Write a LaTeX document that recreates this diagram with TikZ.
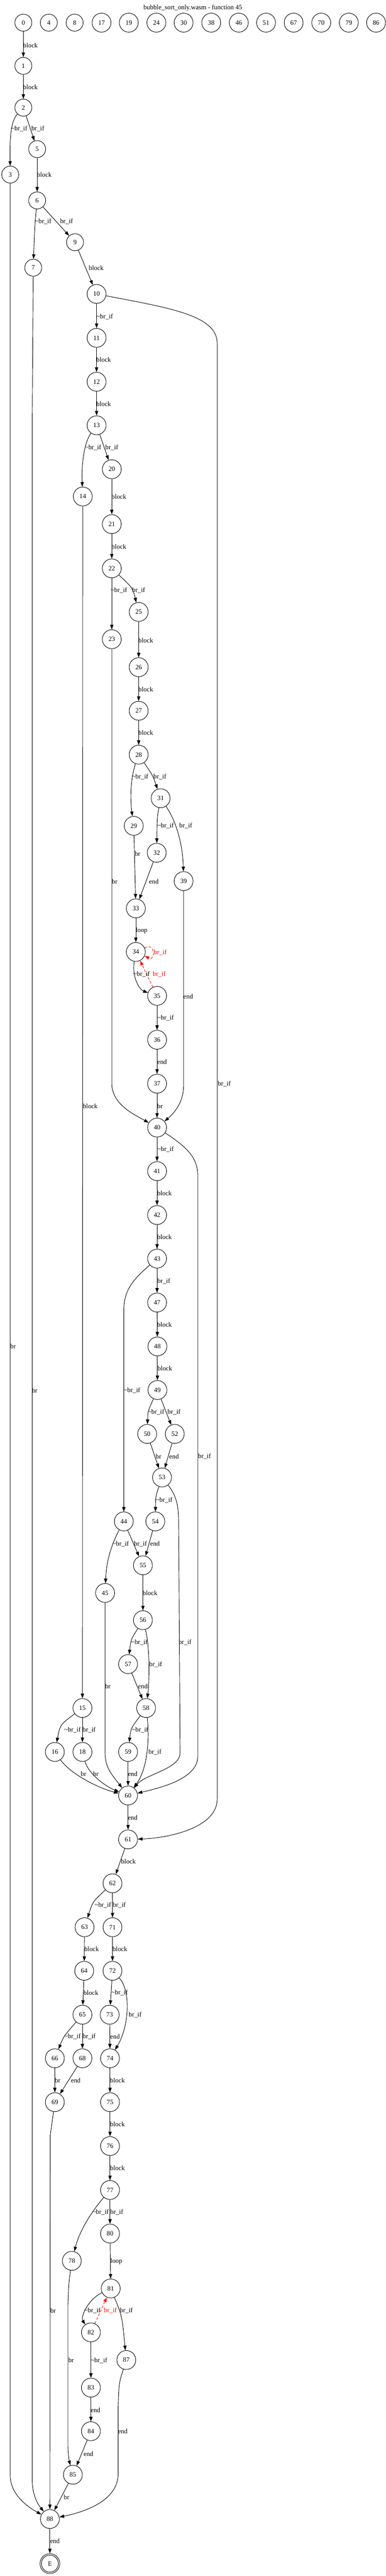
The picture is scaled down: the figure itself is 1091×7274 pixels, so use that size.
\documentclass[tikz,border=0pt]{standalone}
\usepackage{fontspec}
\newfontfamily\libser{Liberation Serif}
\usetikzlibrary{arrows.meta}
\newcommand\gvf{\libser\fontsize{18.67pt}{22pt}\selectfont}
\newcommand\bif{br\_if}
\newcommand\nbif{\textasciitilde br\_if}
\newcommand\elab[4]{\node[lbl] (#1) at (#2,#3) {#4};}
\tikzset{
  n/.style={circle, draw, line width=1.33pt, minimum size=48pt, inner sep=0pt, font=\gvf},
  nn/.style={n, minimum size=53.5pt},
  lbl/.style={inner sep=0pt, font=\gvf},
  ed/.style={draw, line width=1.33pt, -{Triangle[length=13.3pt,width=9.3pt]}},
  back/.style={ed, red, dashed, dash pattern=on 7pt off 5pt},
  rl/.style={lbl, text=red}
}
\begin{document}
\begin{tikzpicture}[x=1pt,y=-1pt]
\fill[white] (0,0) rectangle (1091,7274);
\useasboundingbox (0,0) rectangle (1091,7274);
\node[lbl] (title) at (545,22) {bubble\_sort\_only.wasm - function 45};
% top row
\node[n] (n0) at (66,64) {0};
\node[n] (n4) at (138,64) {4};
\node[n] (n8) at (211,64) {8};
\node[nn] (n17) at (287,64) {17};
\node[nn] (n19) at (364,64) {19};
\node[nn] (n24) at (442,64) {24};
\node[nn] (n30) at (519,64) {30};
\node[nn] (n38) at (597,64) {38};
\node[nn] (n46) at (675,64) {46};
\node[nn] (n51) at (752,64) {51};
\node[nn] (n67) at (830,64) {67};
\node[nn] (n70) at (908,64) {70};
\node[nn] (n79) at (986,64) {79};
\node[nn] (n86) at (1063,64) {86};
% graph nodes
\node[n] (n1) at (66,186) {1};
\node[n] (n2) at (66,304) {2};
\node[n] (n5) at (105,421) {5};
\node[n] (n3) at (29,493) {3};
\node[n] (n6) at (105,566) {6};
\node[n] (n9) at (212,684) {9};
\node[n] (n7) at (94,756) {7};
\node[nn] (n10) at (273,830) {10};
\node[nn] (n11) at (273,954) {11};
\node[nn] (n12) at (273,1078) {12};
\node[nn] (n13) at (273,1201) {13};
\node[nn] (n20) at (316,1325) {20};
\node[nn] (n14) at (234,1402) {14};
\node[nn] (n21) at (316,1480) {21};
\node[nn] (n22) at (316,1605) {22};
\node[nn] (n25) at (392,1728) {25};
\node[nn] (n23) at (316,1805) {23};
\node[nn] (n26) at (392,1884) {26};
\node[nn] (n27) at (392,2007) {27};
\node[nn] (n28) at (392,2131) {28};
\node[nn] (n31) at (454,2254) {31};
\node[nn] (n29) at (378,2332) {29};
\node[nn] (n32) at (443,2408) {32};
\node[nn] (n39) at (519,2488) {39};
\node[nn] (n33) at (384,2565) {33};
\node[nn] (n34) at (384,2688) {34};
\node[nn] (n35) at (444,2812) {35};
\node[nn] (n36) at (444,2936) {36};
\node[nn] (n37) at (444,3060) {37};
\node[nn] (n40) at (444,3184) {40};
\node[nn] (n41) at (444,3307) {41};
\node[nn] (n42) at (444,3431) {42};
\node[nn] (n43) at (444,3554) {43};
\node[nn] (n47) at (444,3678) {47};
\node[nn] (n48) at (445,3802) {48};
\node[nn] (n49) at (445,3925) {49};
\node[nn] (n50) at (416,4049) {50};
\node[nn] (n52) at (494,4049) {52};
\node[nn] (n53) at (458,4172) {53};
\node[nn] (n44) at (350,4296) {44};
\node[nn] (n54) at (439,4296) {54};
\node[nn] (n55) at (404,4420) {55};
\node[nn] (n45) at (297,4498) {45};
\node[nn] (n56) at (404,4575) {56};
\node[nn] (n57) at (362,4699) {57};
\node[nn] (n15) at (233,4823) {15};
\node[nn] (n58) at (413,4823) {58};
\node[nn] (n16) at (155,4947) {16};
\node[nn] (n18) at (233,4947) {18};
\node[nn] (n59) at (362,4947) {59};
\node[nn] (n60) at (362,5070) {60};
\node[nn] (n61) at (362,5194) {61};
\node[nn] (n62) at (318,5318) {62};
\node[nn] (n63) at (239,5442) {63};
\node[nn] (n71) at (318,5442) {71};
\node[nn] (n64) at (238,5565) {64};
\node[nn] (n72) at (318,5565) {72};
\node[nn] (n65) at (233,5689) {65};
\node[nn] (n73) at (310,5689) {73};
\node[nn] (n66) at (155,5812) {66};
\node[nn] (n68) at (233,5812) {68};
\node[nn] (n74) at (311,5812) {74};
\node[nn] (n69) at (155,5936) {69};
\node[nn] (n75) at (311,5936) {75};
\node[nn] (n76) at (311,6060) {76};
\node[nn] (n77) at (311,6184) {77};
\node[nn] (n80) at (311,6307) {80};
\node[nn] (n78) at (203,6384) {78};
\node[nn] (n81) at (313,6462) {81};
\node[nn] (n82) at (257,6586) {82};
\node[nn] (n87) at (357,6664) {87};
\node[nn] (n83) at (257,6742) {83};
\node[nn] (n84) at (257,6865) {84};
\node[nn] (n85) at (206,6988) {85};
\node[nn] (n88) at (141,7113) {88};
\node[n, minimum size=56pt] (nE) at (141,7239) {E};
\draw[line width=1.33pt] (nE.center) circle[radius=24pt];
% edges
\draw[ed] (n0) -- (n1);
\draw[ed] (n1) -- (n2);
\draw[ed] (n2) .. controls (28,345) and (28,400) .. (n3);
\draw[ed] (n2) -- (n5);
\draw[ed] (n5) -- (n6);
\draw[ed] (n6) .. controls (98,640) .. (n7);
\draw[ed] (n6) -- (n9);
\draw[ed] (n9) -- (n10);
\draw[ed] (n10) -- (n11);
\draw[ed] (n10) .. controls (480,870) and (614,890) .. (614,970) -- (614,5080) .. controls (614,5160) and (480,5190) .. (n61);
\draw[ed] (n11) -- (n12);
\draw[ed] (n12) -- (n13);
\draw[ed] (n13) .. controls (238,1250) and (230,1310) .. (n14);
\draw[ed] (n13) -- (n20);
\draw[ed] (n20) -- (n21);
\draw[ed] (n21) -- (n22);
\draw[ed] (n22) -- (n23);
\draw[ed] (n22) .. controls (375,1660) .. (n25);
\draw[ed] (n25) -- (n26);
\draw[ed] (n26) -- (n27);
\draw[ed] (n27) -- (n28);
\draw[ed] (n28) .. controls (368,2200) and (368,2260) .. (n29);
\draw[ed] (n28) .. controls (432,2190) .. (n31);
\draw[ed] (n31) .. controls (444,2310) .. (n32);
\draw[ed] (n31) .. controls (505,2330) and (517,2400) .. (n39);
\draw[ed] (n29) -- (n33);
\draw[ed] (n32) -- (n33);
\draw[ed] (n23) -- (316,3060) .. controls (316,3120) and (385,3150) .. (n40);
\draw[ed] (n33) -- (n34);
\draw[back] (n34.25) .. controls (440,2660) and (440,2715) .. (n34.-25);
\draw[ed] (n34) .. controls (372,2760) and (395,2795) .. (n35);
\draw[back] (n35) -- (n34);
\draw[ed] (n35) -- (n36);
\draw[ed] (n36) -- (n37);
\draw[ed] (n37) -- (n40);
\draw[ed] (n39) -- (519,3065) .. controls (519,3115) and (490,3145) .. (n40);
\draw[ed] (n14) -- (n15);
\draw[ed] (n40) -- (n41);
\draw[ed] (n40) .. controls (530,3240) and (559,3270) .. (559,3320) -- (559,4960) .. controls (559,5025) and (445,5050) .. (n60);
\draw[ed] (n41) -- (n42);
\draw[ed] (n42) -- (n43);
\draw[ed] (n43) -- (n47);
\draw[ed] (n43) .. controls (380,3610) and (350,3640) .. (350,3700) -- (n44);
\draw[ed] (n3) -- (29,6990) .. controls (29,7045) and (80,7080) .. (n88);
\draw[ed] (n7) -- (91,1200) -- (91,7000) .. controls (91,7050) and (110,7075) .. (n88);
\draw[ed] (n47) -- (n48);
\draw[ed] (n48) -- (n49);
\draw[ed] (n49) .. controls (418,3985) .. (n50);
\draw[ed] (n49) -- (n52);
\draw[ed] (n50) -- (n53);
\draw[ed] (n52) -- (n53);
\draw[ed] (n53) .. controls (440,4225) .. (n54);
\draw[ed] (n53) .. controls (500,4225) and (505,4255) .. (505,4300) -- (509,4950) .. controls (509,4995) and (410,5010) .. (n60);
\draw[ed] (n44) .. controls (305,4380) and (300,4430) .. (n45);
\draw[ed] (n44) -- (n55);
\draw[ed] (n54) -- (n55);
\draw[ed] (n55) -- (n56);
\draw[ed] (n56) .. controls (370,4630) .. (n57);
\draw[ed] (n56) .. controls (424,4650) and (422,4750) .. (n58);
\draw[ed] (n57) -- (n58);
\draw[ed] (n45) -- (297,4950) .. controls (297,4990) and (315,5010) .. (n60);
\draw[ed] (n15) .. controls (170,4870) .. (n16);
\draw[ed] (n15) -- (n18);
\draw[ed] (n58) .. controls (370,4880) .. (n59);
\draw[ed] (n58) .. controls (422,4900) and (420,4990) .. (n60);
\draw[ed] (n16) .. controls (200,5010) and (280,5050) .. (n60);
\draw[ed] (n18) .. controls (250,5010) and (300,5045) .. (n60);
\draw[ed] (n59) -- (n60);
\draw[ed] (n60) -- (n61);
\draw[ed] (n61) -- (n62);
\draw[ed] (n62) .. controls (262,5370) .. (n63);
\draw[ed] (n62) -- (n71);
\draw[ed] (n63) -- (n64);
\draw[ed] (n71) -- (n72);
\draw[ed] (n64) -- (n65);
\draw[ed] (n72) -- (n73);
\draw[ed] (n72) .. controls (370,5620) and (366,5720) .. (n74);
\draw[ed] (n65) .. controls (180,5750) .. (n66);
\draw[ed] (n65) -- (n68);
\draw[ed] (n73) -- (n74);
\draw[ed] (n66) -- (n69);
\draw[ed] (n68) -- (n69);
\draw[ed] (n74) -- (n75);
\draw[ed] (n75) -- (n76);
\draw[ed] (n76) -- (n77);
\draw[ed] (n77) .. controls (255,6250) and (225,6300) .. (n78);
\draw[ed] (n77) -- (n80);
\draw[ed] (n80) -- (n81);
\draw[ed] (n69) -- (142,6030) -- (n88);
\draw[ed] (n81) .. controls (245,6495) and (228,6545) .. (n82);
\draw[back] (n82) -- (n81);
\draw[ed] (n81) .. controls (345,6540) .. (n87);
\draw[ed] (n78) .. controls (194,6450) .. (192,6510) -- (192,6900) .. controls (192,6935) and (196,6950) .. (n85);
\draw[ed] (n82) -- (n83);
\draw[ed] (n83) -- (n84);
\draw[ed] (n84) -- (n85);
\draw[ed] (n87) .. controls (336,6730) .. (334,6800) -- (334,6985) .. controls (334,7065) and (230,7095) .. (n88);
\draw[ed] (n85) -- (n88);
\draw[ed] (n88) -- (nE);
% edge labels
\elab{l0}{86}{128}{block}
\elab{l1}{86}{246}{block}
\elab{l2a}{54}{364}{\nbif}
\elab{l2b}{107}{364}{\bif}
\elab{l5}{125}{494}{block}
\elab{l6a}{122}{625}{\nbif}
\elab{l6b}{188}{625}{\bif}
\elab{l9}{272}{756}{block}
\elab{l10a}{296}{894}{\nbif}
\elab{l11}{293}{1016}{block}
\elab{l12}{293}{1140}{block}
\elab{l13a}{263}{1264}{\nbif}
\elab{l13b}{316}{1264}{\bif}
\elab{l20}{336}{1403}{block}
\elab{l21}{336}{1543}{block}
\elab{l22a}{336}{1667}{\nbif}
\elab{l22b}{392}{1667}{\bif}
\elab{l25}{412}{1808}{block}
\elab{l26}{412}{1947}{block}
\elab{l27}{412}{2069}{block}
\elab{l28a}{396}{2194}{\nbif}
\elab{l28b}{452}{2194}{\bif}
\elab{l31a}{468}{2332}{\nbif}
\elab{l31b}{525}{2332}{\bif}
\elab{l29}{389}{2411}{br}
\elab{l23}{324}{2489}{br}
\elab{l32}{435}{2489}{end}
\elab{l33}{400}{2628}{loop}
\node[rl] (l34s) at (453,2689) {\bif};
\elab{l34a}{400}{2751}{\nbif}
\node[rl] (l35b) at (450,2751) {\bif};
\elab{l39}{532}{2813}{end}
\elab{l35a}{468}{2875}{\nbif}
\elab{l36}{458}{2998}{end}
\elab{l10b}{634}{3060}{\bif}
\elab{l14}{255}{3123}{block}
\elab{l37}{452}{3123}{br}
\elab{l40a}{468}{3246}{\nbif}
\elab{l41}{465}{3369}{block}
\elab{l42}{465}{3493}{block}
\elab{l43b}{463}{3618}{\bif}
\elab{l3}{37}{3802}{br}
\elab{l47}{465}{3740}{block}
\elab{l48}{466}{3864}{block}
\elab{l7}{98}{3926}{br}
\elab{l43a}{373}{3926}{\nbif}
\elab{l49a}{441}{3988}{\nbif}
\elab{l49b}{492}{3988}{\bif}
\elab{l50}{448}{4113}{br}
\elab{l52}{492}{4113}{end}
\elab{l40b}{578}{4113}{\bif}
\elab{l53a}{464}{4236}{\nbif}
\elab{l44a}{341}{4359}{\nbif}
\elab{l44b}{397}{4359}{\bif}
\elab{l54}{438}{4359}{end}
\elab{l55}{424}{4498}{block}
\elab{l56a}{394}{4638}{\nbif}
\elab{l53b}{523}{4638}{\bif}
\elab{l56b}{440}{4700}{\bif}
\elab{l45}{305}{4762}{br}
\elab{l57}{404}{4762}{end}
\elab{l15a}{205}{4885}{\nbif}
\elab{l15b}{252}{4885}{\bif}
\elab{l58a}{396}{4885}{\nbif}
\elab{l58b}{438}{4947}{\bif}
\elab{l16}{236}{5009}{br}
\elab{l18}{271}{5009}{br}
\elab{l59}{375}{5009}{end}
\elab{l60}{375}{5133}{end}
\elab{l61}{363}{5256}{block}
\elab{l62a}{291}{5380}{\nbif}
\elab{l62b}{337}{5380}{\bif}
\elab{l63}{259}{5504}{block}
\elab{l71}{339}{5504}{block}
\elab{l64}{257}{5627}{block}
\elab{l72a}{338}{5627}{\nbif}
\elab{l72b}{382}{5689}{\bif}
\elab{l65a}{205}{5751}{\nbif}
\elab{l65b}{252}{5751}{\bif}
\elab{l73}{325}{5751}{end}
\elab{l66}{163}{5875}{br}
\elab{l68}{214}{5875}{end}
\elab{l74}{332}{5875}{block}
\elab{l75}{332}{5998}{block}
\elab{l76}{332}{6122}{block}
\elab{l77a}{284}{6246}{\nbif}
\elab{l77b}{330}{6246}{\bif}
\elab{l80}{329}{6386}{loop}
\elab{l69}{150}{6525}{br}
\elab{l81a}{261}{6525}{\nbif}
\node[rl] (l82b) at (312,6525) {\bif};
\elab{l81b}{357}{6525}{\bif}
\elab{l78}{201}{6665}{br}
\elab{l82a}{280}{6665}{\nbif}
\elab{l83}{270}{6805}{end}
\elab{l87}{347}{6866}{end}
\elab{l84}{250}{6929}{end}
\elab{l85}{188}{7052}{br}
\elab{l88}{155}{7175}{end}
\end{tikzpicture}
\end{document}
